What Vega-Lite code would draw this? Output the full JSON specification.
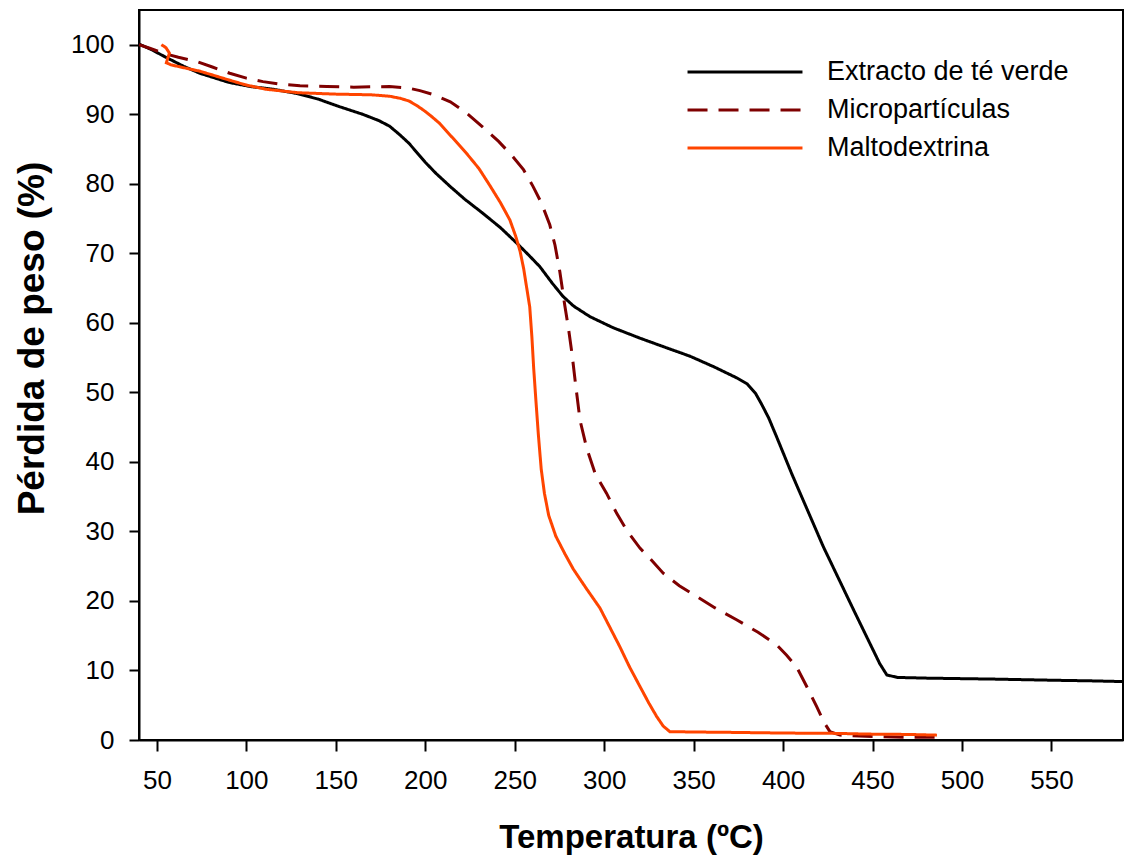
{
  "$schema": "https://vega.github.io/schema/vega-lite/v6.json",
  "width": 984,
  "height": 730,
  "autosize": {"type": "none"},
  "padding": {"left": 139, "top": 10, "right": 3, "bottom": 123},
  "background": "white",
  "config": {
    "font": "Liberation Sans",
    "view": {"stroke": "black", "strokeWidth": 2},
    "axis": {
      "grid": false,
      "domainColor": "black",
      "domainWidth": 2,
      "tickColor": "black",
      "tickWidth": 2,
      "labelColor": "black",
      "titleColor": "black",
      "labelFont": "Liberation Sans",
      "titleFont": "Liberation Sans",
      "labelFontSize": 26,
      "titleFontSize": 33,
      "titleFontWeight": "bold"
    },
    "legend": {
      "symbolType": "M-4,0H4",
      "symbolSize": 826,
      "symbolStrokeWidth": 3,
      "labelFontSize": 27,
      "labelColor": "black",
      "labelFont": "Liberation Sans",
      "labelOffset": 66,
      "labelLimit": 0,
      "rowPadding": 9
    }
  },
  "data": {
    "values": [
      {"s": "Extracto de té verde", "i": 0, "t": 40, "w": 100.1},
      {"s": "Extracto de té verde", "i": 1, "t": 47, "w": 99.3},
      {"s": "Extracto de té verde", "i": 2, "t": 55, "w": 98.2},
      {"s": "Extracto de té verde", "i": 3, "t": 65, "w": 96.9},
      {"s": "Extracto de té verde", "i": 4, "t": 74, "w": 95.9},
      {"s": "Extracto de té verde", "i": 5, "t": 90, "w": 94.6},
      {"s": "Extracto de té verde", "i": 6, "t": 102, "w": 94.0},
      {"s": "Extracto de té verde", "i": 7, "t": 115, "w": 93.6},
      {"s": "Extracto de té verde", "i": 8, "t": 128, "w": 93.0},
      {"s": "Extracto de té verde", "i": 9, "t": 140, "w": 92.2},
      {"s": "Extracto de té verde", "i": 10, "t": 152, "w": 91.1},
      {"s": "Extracto de té verde", "i": 11, "t": 165, "w": 90.0},
      {"s": "Extracto de té verde", "i": 12, "t": 174, "w": 89.1},
      {"s": "Extracto de té verde", "i": 13, "t": 180, "w": 88.3},
      {"s": "Extracto de té verde", "i": 14, "t": 186, "w": 87.0},
      {"s": "Extracto de té verde", "i": 15, "t": 191, "w": 85.8},
      {"s": "Extracto de té verde", "i": 16, "t": 196, "w": 84.3},
      {"s": "Extracto de té verde", "i": 17, "t": 200, "w": 83.1},
      {"s": "Extracto de té verde", "i": 18, "t": 206, "w": 81.5},
      {"s": "Extracto de té verde", "i": 19, "t": 214, "w": 79.6},
      {"s": "Extracto de té verde", "i": 20, "t": 222, "w": 77.8},
      {"s": "Extracto de té verde", "i": 21, "t": 232, "w": 75.8},
      {"s": "Extracto de té verde", "i": 22, "t": 242, "w": 73.7},
      {"s": "Extracto de té verde", "i": 23, "t": 251, "w": 71.5},
      {"s": "Extracto de té verde", "i": 24, "t": 258, "w": 69.7},
      {"s": "Extracto de té verde", "i": 25, "t": 264, "w": 68.1},
      {"s": "Extracto de té verde", "i": 26, "t": 271, "w": 65.7},
      {"s": "Extracto de té verde", "i": 27, "t": 277, "w": 63.8},
      {"s": "Extracto de té verde", "i": 28, "t": 283, "w": 62.4},
      {"s": "Extracto de té verde", "i": 29, "t": 292, "w": 60.9},
      {"s": "Extracto de té verde", "i": 30, "t": 305, "w": 59.3},
      {"s": "Extracto de té verde", "i": 31, "t": 320, "w": 57.8},
      {"s": "Extracto de té verde", "i": 32, "t": 335, "w": 56.4},
      {"s": "Extracto de té verde", "i": 33, "t": 348, "w": 55.2},
      {"s": "Extracto de té verde", "i": 34, "t": 362, "w": 53.6},
      {"s": "Extracto de té verde", "i": 35, "t": 374, "w": 52.1},
      {"s": "Extracto de té verde", "i": 36, "t": 380, "w": 51.2},
      {"s": "Extracto de té verde", "i": 37, "t": 384.5, "w": 49.9},
      {"s": "Extracto de té verde", "i": 38, "t": 388, "w": 48.3},
      {"s": "Extracto de té verde", "i": 39, "t": 392, "w": 46.3},
      {"s": "Extracto de té verde", "i": 40, "t": 396.4, "w": 43.6},
      {"s": "Extracto de té verde", "i": 41, "t": 405, "w": 38.2},
      {"s": "Extracto de té verde", "i": 42, "t": 422.5, "w": 27.8},
      {"s": "Extracto de té verde", "i": 43, "t": 440, "w": 18.4},
      {"s": "Extracto de té verde", "i": 44, "t": 454, "w": 11.0},
      {"s": "Extracto de té verde", "i": 45, "t": 458, "w": 9.35},
      {"s": "Extracto de té verde", "i": 46, "t": 464, "w": 9.0},
      {"s": "Extracto de té verde", "i": 47, "t": 480, "w": 8.9},
      {"s": "Extracto de té verde", "i": 48, "t": 520, "w": 8.75},
      {"s": "Extracto de té verde", "i": 49, "t": 550, "w": 8.6},
      {"s": "Extracto de té verde", "i": 50, "t": 574, "w": 8.5},
      {"s": "Extracto de té verde", "i": 51, "t": 590, "w": 8.4},

      {"s": "Micropartículas", "i": 0, "t": 40, "w": 100.0},
      {"s": "Micropartículas", "i": 1, "t": 46, "w": 99.5},
      {"s": "Micropartículas", "i": 2, "t": 53.4, "w": 98.8},
      {"s": "Micropartículas", "i": 3, "t": 62, "w": 98.2},
      {"s": "Micropartículas", "i": 4, "t": 72, "w": 97.6},
      {"s": "Micropartículas", "i": 5, "t": 81, "w": 96.8},
      {"s": "Micropartículas", "i": 6, "t": 90.7, "w": 95.9},
      {"s": "Micropartículas", "i": 7, "t": 100, "w": 95.2},
      {"s": "Micropartículas", "i": 8, "t": 109.3, "w": 94.7},
      {"s": "Micropartículas", "i": 9, "t": 120, "w": 94.3},
      {"s": "Micropartículas", "i": 10, "t": 130, "w": 94.1},
      {"s": "Micropartículas", "i": 11, "t": 145, "w": 94.0},
      {"s": "Micropartículas", "i": 12, "t": 160, "w": 93.9},
      {"s": "Micropartículas", "i": 13, "t": 180, "w": 94.0},
      {"s": "Micropartículas", "i": 14, "t": 190, "w": 93.8},
      {"s": "Micropartículas", "i": 15, "t": 197, "w": 93.4},
      {"s": "Micropartículas", "i": 16, "t": 205, "w": 92.8},
      {"s": "Micropartículas", "i": 17, "t": 214, "w": 91.8},
      {"s": "Micropartículas", "i": 18, "t": 222, "w": 90.4},
      {"s": "Micropartículas", "i": 19, "t": 232, "w": 88.2},
      {"s": "Micropartículas", "i": 20, "t": 241, "w": 86.1},
      {"s": "Micropartículas", "i": 21, "t": 249, "w": 83.9},
      {"s": "Micropartículas", "i": 22, "t": 255, "w": 82.0},
      {"s": "Micropartículas", "i": 23, "t": 260.3, "w": 79.6},
      {"s": "Micropartículas", "i": 24, "t": 265, "w": 77.2},
      {"s": "Micropartículas", "i": 25, "t": 269.6, "w": 74.1},
      {"s": "Micropartículas", "i": 26, "t": 272.5, "w": 71.2},
      {"s": "Micropartículas", "i": 27, "t": 275.2, "w": 67.4},
      {"s": "Micropartículas", "i": 28, "t": 278, "w": 62.5},
      {"s": "Micropartículas", "i": 29, "t": 280, "w": 59.3},
      {"s": "Micropartículas", "i": 30, "t": 282, "w": 55.6},
      {"s": "Micropartículas", "i": 31, "t": 284, "w": 51.2},
      {"s": "Micropartículas", "i": 32, "t": 286.5, "w": 46.0},
      {"s": "Micropartículas", "i": 33, "t": 290.2, "w": 42.0},
      {"s": "Micropartículas", "i": 34, "t": 295, "w": 38.3},
      {"s": "Micropartículas", "i": 35, "t": 301.3, "w": 35.5},
      {"s": "Micropartículas", "i": 36, "t": 307, "w": 32.6},
      {"s": "Micropartículas", "i": 37, "t": 313, "w": 30.0},
      {"s": "Micropartículas", "i": 38, "t": 320, "w": 27.6},
      {"s": "Micropartículas", "i": 39, "t": 326, "w": 26.0},
      {"s": "Micropartículas", "i": 40, "t": 333, "w": 24.0},
      {"s": "Micropartículas", "i": 41, "t": 342, "w": 22.2},
      {"s": "Micropartículas", "i": 42, "t": 352, "w": 20.6},
      {"s": "Micropartículas", "i": 43, "t": 362, "w": 19.0},
      {"s": "Micropartículas", "i": 44, "t": 374, "w": 17.3},
      {"s": "Micropartículas", "i": 45, "t": 386, "w": 15.5},
      {"s": "Micropartículas", "i": 46, "t": 396.4, "w": 13.7},
      {"s": "Micropartículas", "i": 47, "t": 402, "w": 12.2},
      {"s": "Micropartículas", "i": 48, "t": 407.6, "w": 10.5},
      {"s": "Micropartículas", "i": 49, "t": 413, "w": 7.8},
      {"s": "Micropartículas", "i": 50, "t": 418.8, "w": 4.8},
      {"s": "Micropartículas", "i": 51, "t": 423, "w": 2.5},
      {"s": "Micropartículas", "i": 52, "t": 426.2, "w": 1.2},
      {"s": "Micropartículas", "i": 53, "t": 431.8, "w": 0.7},
      {"s": "Micropartículas", "i": 54, "t": 450, "w": 0.5},
      {"s": "Micropartículas", "i": 55, "t": 469, "w": 0.4},
      {"s": "Micropartículas", "i": 56, "t": 486, "w": 0.4},

      {"s": "Maltodextrina", "i": 0, "t": 52.5, "w": 100.0},
      {"s": "Maltodextrina", "i": 1, "t": 55, "w": 99.6},
      {"s": "Maltodextrina", "i": 2, "t": 57, "w": 98.8},
      {"s": "Maltodextrina", "i": 3, "t": 56, "w": 98.0},
      {"s": "Maltodextrina", "i": 4, "t": 55.3, "w": 97.4},
      {"s": "Maltodextrina", "i": 5, "t": 58, "w": 97.1},
      {"s": "Maltodextrina", "i": 6, "t": 65, "w": 96.7},
      {"s": "Maltodextrina", "i": 7, "t": 74, "w": 96.2},
      {"s": "Maltodextrina", "i": 8, "t": 90.7, "w": 94.9},
      {"s": "Maltodextrina", "i": 9, "t": 100, "w": 94.2},
      {"s": "Maltodextrina", "i": 10, "t": 111, "w": 93.6},
      {"s": "Maltodextrina", "i": 11, "t": 129, "w": 93.1},
      {"s": "Maltodextrina", "i": 12, "t": 150, "w": 92.9},
      {"s": "Maltodextrina", "i": 13, "t": 170, "w": 92.8},
      {"s": "Maltodextrina", "i": 14, "t": 180, "w": 92.6},
      {"s": "Maltodextrina", "i": 15, "t": 186, "w": 92.3},
      {"s": "Maltodextrina", "i": 16, "t": 191, "w": 91.9},
      {"s": "Maltodextrina", "i": 17, "t": 195, "w": 91.3},
      {"s": "Maltodextrina", "i": 18, "t": 199, "w": 90.6},
      {"s": "Maltodextrina", "i": 19, "t": 203, "w": 89.8},
      {"s": "Maltodextrina", "i": 20, "t": 208, "w": 88.7},
      {"s": "Maltodextrina", "i": 21, "t": 215, "w": 86.7},
      {"s": "Maltodextrina", "i": 22, "t": 223, "w": 84.4},
      {"s": "Maltodextrina", "i": 23, "t": 230, "w": 82.2},
      {"s": "Maltodextrina", "i": 24, "t": 236, "w": 79.8},
      {"s": "Maltodextrina", "i": 25, "t": 242, "w": 77.3},
      {"s": "Maltodextrina", "i": 26, "t": 247.3, "w": 74.8},
      {"s": "Maltodextrina", "i": 27, "t": 250.5, "w": 72.5},
      {"s": "Maltodextrina", "i": 28, "t": 253, "w": 70.3},
      {"s": "Maltodextrina", "i": 29, "t": 255, "w": 67.8},
      {"s": "Maltodextrina", "i": 30, "t": 256.6, "w": 65.2},
      {"s": "Maltodextrina", "i": 31, "t": 258.4, "w": 62.3},
      {"s": "Maltodextrina", "i": 32, "t": 259.6, "w": 58.0},
      {"s": "Maltodextrina", "i": 33, "t": 260.6, "w": 53.5},
      {"s": "Maltodextrina", "i": 34, "t": 261.8, "w": 49.0},
      {"s": "Maltodextrina", "i": 35, "t": 263.2, "w": 44.0},
      {"s": "Maltodextrina", "i": 36, "t": 264.8, "w": 39.0},
      {"s": "Maltodextrina", "i": 37, "t": 266.6, "w": 35.5},
      {"s": "Maltodextrina", "i": 38, "t": 269, "w": 32.3},
      {"s": "Maltodextrina", "i": 39, "t": 273, "w": 29.3},
      {"s": "Maltodextrina", "i": 40, "t": 278, "w": 26.8},
      {"s": "Maltodextrina", "i": 41, "t": 282.7, "w": 24.6},
      {"s": "Maltodextrina", "i": 42, "t": 290, "w": 21.8},
      {"s": "Maltodextrina", "i": 43, "t": 297.6, "w": 19.0},
      {"s": "Maltodextrina", "i": 44, "t": 303, "w": 16.3},
      {"s": "Maltodextrina", "i": 45, "t": 308.8, "w": 13.4},
      {"s": "Maltodextrina", "i": 46, "t": 314, "w": 10.6},
      {"s": "Maltodextrina", "i": 47, "t": 320, "w": 7.7},
      {"s": "Maltodextrina", "i": 48, "t": 325, "w": 5.3},
      {"s": "Maltodextrina", "i": 49, "t": 329.3, "w": 3.4},
      {"s": "Maltodextrina", "i": 50, "t": 333, "w": 2.0},
      {"s": "Maltodextrina", "i": 51, "t": 336.7, "w": 1.2},
      {"s": "Maltodextrina", "i": 52, "t": 350, "w": 1.15},
      {"s": "Maltodextrina", "i": 53, "t": 370, "w": 1.1},
      {"s": "Maltodextrina", "i": 54, "t": 400, "w": 1.0},
      {"s": "Maltodextrina", "i": 55, "t": 430, "w": 0.95},
      {"s": "Maltodextrina", "i": 56, "t": 447, "w": 0.85},
      {"s": "Maltodextrina", "i": 57, "t": 470, "w": 0.8},
      {"s": "Maltodextrina", "i": 58, "t": 486, "w": 0.7}
    ]
  },
  "mark": {"type": "line", "strokeWidth": 3, "clip": true, "interpolate": "linear"},
  "encoding": {
    "x": {
      "field": "t",
      "type": "quantitative",
      "scale": {"domain": [40, 590], "nice": false, "zero": false},
      "axis": {
        "title": "Temperatura (ºC)",
        "values": [50, 100, 150, 200, 250, 300, 350, 400, 450, 500, 550],
        "tickSize": 11,
        "labelPadding": 16,
        "titlePadding": 28
      }
    },
    "y": {
      "field": "w",
      "type": "quantitative",
      "scale": {"domain": [0, 105], "nice": false},
      "axis": {
        "title": "Pérdida de peso (%)",
        "titleFontSize": 37,
        "titleY": 328,
        "titleAlign": "center",
        "values": [0, 10, 20, 30, 40, 50, 60, 70, 80, 90, 100],
        "tickSize": 10,
        "labelPadding": 15,
        "titlePadding": 19
      }
    },
    "order": {"field": "i", "type": "quantitative"},
    "color": {
      "field": "s",
      "type": "nominal",
      "scale": {
        "domain": ["Extracto de té verde", "Micropartículas", "Maltodextrina"],
        "range": ["#000000", "#7f0000", "#ff4500"]
      },
      "legend": {"title": null, "orient": "none", "legendX": 590, "legendY": 46}
    },
    "strokeDash": {
      "field": "s",
      "type": "nominal",
      "scale": {
        "domain": ["Extracto de té verde", "Micropartículas", "Maltodextrina"],
        "range": [[1, 0], [20, 11], [1, 0]]
      },
      "legend": {"title": null, "orient": "none", "legendX": 590, "legendY": 46}
    }
  }
}
